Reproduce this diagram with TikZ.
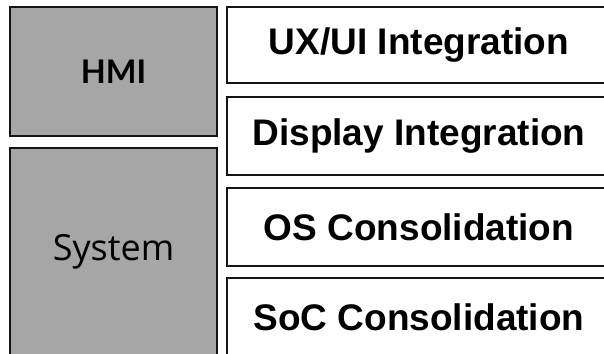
\documentclass[tikz,border=0pt]{standalone}
\usepackage{fontspec}
\setmainfont{Liberation Sans}
\newfontfamily\hmifont{Lato}
\newfontfamily\sysfont{Open Sans}
\definecolor{boxgray}{HTML}{A6A6A6}
\definecolor{edge}{HTML}{141414}
\begin{document}
\begin{tikzpicture}[x=1pt,y=-1pt,
  graybox/.style={draw=edge, line width=1.8pt, fill=boxgray, anchor=north west, inner sep=0pt, outer sep=0pt},
  whitebox/.style={draw=edge, line width=1.8pt, fill=white, anchor=north west, inner sep=0pt, outer sep=0pt,
     minimum width=384pt, font=\fontsize{37}{42}\selectfont\bfseries}]
\useasboundingbox (0,0) rectangle (604,353);
\clip (0,0) rectangle (604,353);
\node[graybox, minimum width=207pt, minimum height=129pt, font=\hmifont\fontsize{32.5}{36}\selectfont\bfseries] (hmi) at (10,7) {HMI};
\node[graybox, minimum width=207pt, minimum height=208pt, font=\sysfont\fontsize{36}{40}\selectfont] (sys) at (10,148) {System};
\node[whitebox, minimum height=76pt] (ux) at (227,7) {UX/UI Integration};
\node[whitebox, minimum height=78pt] (disp) at (227,97) {Display Integration};
\node[whitebox, minimum height=78pt] (os) at (227,188) {OS Consolidation};
\node[whitebox, minimum height=78pt] (soc) at (227,278) {SoC Consolidation};
\end{tikzpicture}
\end{document}
